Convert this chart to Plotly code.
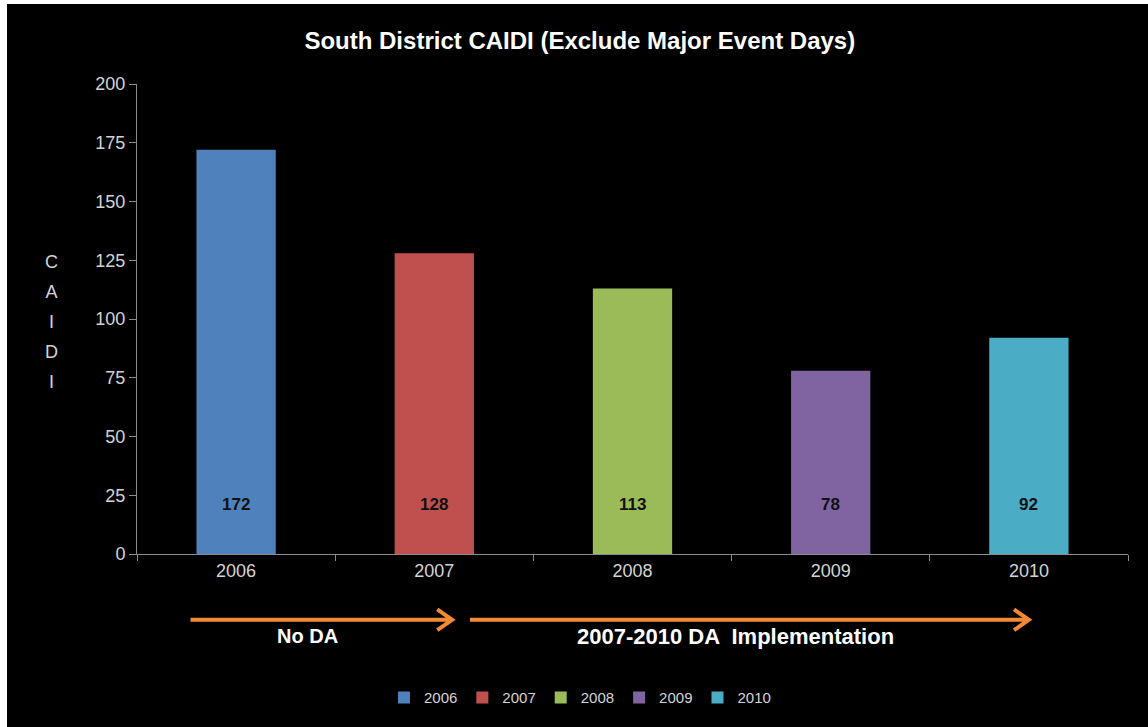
import plotly.graph_objects as go

# chart values
years = ["2006", "2007", "2008", "2009", "2010"]
caidi = [172, 128, 113, 78, 92]
bar_colors = ["#4F81BD", "#C0504D", "#9BBB59", "#8064A2", "#4BACC6"]
y_ticks = [0, 25, 50, 75, 100, 125, 150, 175, 200]

FONT = "Arial, Liberation Sans, sans-serif"
ORANGE = "#F28A33"
GREY = "#d4d4d4"

fig = go.Figure()

for year, value, color in zip(years, caidi, bar_colors):
    fig.add_trace(
        go.Bar(
            x=[year],
            y=[value],
            name=year,
            marker_color=color,
            marker_line_width=0,
            width=0.4,
        )
    )

# value labels near the bottom of each bar (category index positions)
for i, value in enumerate(caidi):
    fig.add_annotation(
        x=i,
        y=21,
        xref="x",
        yref="y",
        text="<b>%d</b>" % value,
        showarrow=False,
        xanchor="center",
        yanchor="middle",
        font=dict(family=FONT, size=17, color="#111111"),
    )

# y axis title as stacked letters (big line height, smaller glyphs)
letters = "<br>".join("<span style='font-size:18px'>%s</span>" % c for c in "CAIDI")
fig.add_annotation(
    x=-0.0858,
    y=0.494,
    xref="paper",
    yref="paper",
    xanchor="center",
    yanchor="middle",
    text=letters,
    showarrow=False,
    align="center",
    font=dict(family=FONT, size=23, color=GREY),
)

# arrows under the axis
arrow_y = -0.14
head_dx = 0.075
head_dy = 0.022
for x0, x1 in [(-0.23, 1.09), (1.18, 4.0)]:
    fig.add_shape(
        type="path",
        xref="x",
        yref="paper",
        path="M %f,%f L %f,%f M %f,%f L %f,%f L %f,%f"
        % (
            x0, arrow_y, x1, arrow_y,
            x1 - head_dx, arrow_y + head_dy, x1, arrow_y,
            x1 - head_dx, arrow_y - head_dy,
        ),
        line=dict(color=ORANGE, width=4),
    )

fig.add_annotation(
    x=0.36, y=-0.175, xref="x", yref="paper",
    xanchor="center", yanchor="middle",
    text="<b>No DA</b>", showarrow=False,
    font=dict(family=FONT, size=20, color="white"),
)
fig.add_annotation(
    x=2.52, y=-0.175, xref="x", yref="paper",
    xanchor="center", yanchor="middle",
    text="<b>2007-2010 DA  Implementation</b>", showarrow=False,
    font=dict(family=FONT, size=22, color="white"),
)

fig.update_layout(
    width=1141,
    height=723,
    paper_bgcolor="black",
    plot_bgcolor="black",
    barmode="overlay",
    margin=dict(l=130, r=20, t=80, b=173),
    title=dict(
        text="<b>South District CAIDI (Exclude Major Event Days)</b>",
        x=0.502,
        xanchor="center",
        y=0.950,
        yanchor="middle",
        font=dict(family=FONT, size=24, color="white"),
    ),
    showlegend=True,
    legend=dict(
        orientation="h",
        x=0.447,
        xanchor="center",
        y=-0.306,
        yanchor="middle",
        font=dict(family=FONT, size=15, color=GREY),
        itemwidth=30,
        bgcolor="rgba(0,0,0,0)",
    ),
    xaxis=dict(
        type="category",
        categoryorder="array",
        categoryarray=years,
        range=[-0.5, 4.5],
        showgrid=False,
        showline=True,
        linecolor="#8c8c8c",
        linewidth=1,
        ticks="outside",
        tickson="boundaries",
        ticklen=6,
        tickcolor="#8c8c8c",
        tickfont=dict(family=FONT, size=18, color=GREY),
        tickangle=0,
        automargin=False,
        zeroline=False,
    ),
    yaxis=dict(
        range=[0, 200],
        tickvals=y_ticks,
        showgrid=False,
        showline=True,
        linecolor="#8c8c8c",
        linewidth=1,
        ticks="outside",
        ticklen=7,
        tickcolor="#8c8c8c",
        tickfont=dict(family=FONT, size=18, color=GREY),
        automargin=False,
        zeroline=False,
    ),
)

# the page frame in the reference is a thin white strip on the left and top only
fig.write_html(
    "out.html",
    post_script="document.body.style.margin='4px 0 0 7px';",
)
